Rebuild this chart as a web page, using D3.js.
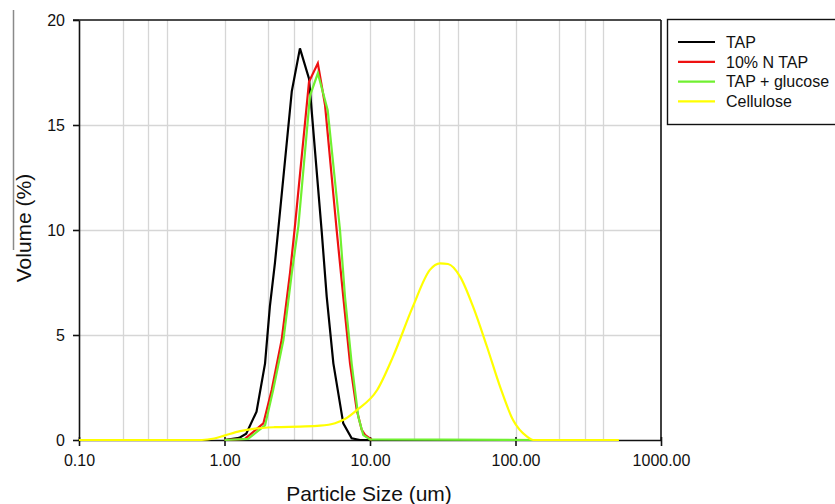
<!DOCTYPE html>
<html>
<head>
<meta charset="utf-8">
<script src="https://cdn.jsdelivr.net/npm/d3@7"></script>
<style>
  html, body { margin: 0; padding: 0; background: #fff; }
  svg { display: block; font-family: Arial, "Liberation Sans", Helvetica, sans-serif; }
</style>
</head>
<body>
<svg id="chart" width="835" height="504"></svg>
<script>
// ---- data ----
const seriesNames = ["TAP", "10% N TAP", "TAP + glucose", "Cellulose"];
const seriesColors = ["#000000", "#ee1111", "#70f030", "#ffff00"];

const tapSize = [1.0, 1.26, 1.41, 1.66, 1.90, 2.05, 2.22, 2.34, 2.90, 3.30, 3.81, 4.66, 5.04, 5.60, 6.55, 7.48, 8.54, 10.0];
const tapVol  = [0, 0.1, 0.3, 1.35, 3.65, 6.35, 8.41, 10.0, 16.6, 18.65, 17.2, 9.9, 6.83, 3.65, 0.79, 0.08, 0, 0];

const nTapSize = [1.0, 1.38, 1.85, 2.11, 2.47, 2.82, 3.05, 3.81, 4.38, 4.91, 5.90, 6.55, 7.29, 8.11, 8.77, 9.24, 10.3];
const nTapVol  = [0, 0.05, 0.79, 2.38, 4.76, 7.94, 10.2, 17.06, 17.94, 15.95, 10.0, 6.83, 3.65, 1.43, 0.48, 0.24, 0];

const glucSize = [1.0, 1.45, 1.90, 2.16, 2.54, 2.90, 3.22, 3.87, 4.38, 5.12, 6.22, 6.73, 7.48, 8.31, 8.99, 10.0, 136];
const glucVol  = [0, 0.05, 0.7, 2.38, 4.76, 7.94, 10.2, 16.4, 17.46, 15.7, 10.0, 6.83, 3.65, 1.1, 0.24, 0.03, 0];

const celSize = [0.1, 0.70, 0.85, 1.01, 1.28, 1.62, 2.22, 3.30, 4.53, 5.75, 6.73, 8.14, 11.2, 14.4, 19.7, 25.8, 30.3, 34.4, 41.6, 51.1, 63.7, 78.3, 96.2, 120, 132, 514];
const celVol  = [0, 0, 0.07, 0.22, 0.42, 0.54, 0.61, 0.64, 0.68, 0.8, 1.0, 1.43, 2.38, 3.97, 6.35, 8.1, 8.41, 8.38, 7.78, 6.35, 4.44, 2.54, 0.95, 0.16, 0, 0];

const xTickValues = [0.1, 1, 10, 100, 1000];
const xTickLabels = ["0.10", "1.00", "10.00", "100.00", "1000.00"];
const xGridMultipliers = [1, 2, 3, 4];
const yTickValues = [0, 5, 10, 15, 20];
const xTitle = "Particle Size (um)";
const yTitle = "Volume (%)";

// ---- layout ----
const svg = d3.select("#chart");
const pLeft = 79, pRight = 661, pTop = 20, pBottom = 440;

const x = d3.scaleLog().domain([0.1, 1000]).range([pLeft, pRight]);
const y = d3.scaleLinear().domain([0, 20]).range([pBottom, pTop]);

// artifact line at far left of the original figure
svg.append("line").attr("x1", 13.5).attr("x2", 13.5).attr("y1", 10).attr("y2", 250)
  .attr("stroke", "#8a8a8a").attr("stroke-width", 1.5);

// grid lines
const gridX = [];
[0.1, 1, 10, 100].forEach(d => xGridMultipliers.forEach(k => gridX.push(d * k)));
svg.append("g").selectAll("line").data(gridX.filter(v => v > 0.1)).join("line")
  .attr("x1", d => Math.round(x(d)) + 0.5).attr("x2", d => Math.round(x(d)) + 0.5)
  .attr("y1", pTop).attr("y2", pBottom)
  .attr("stroke", "#d6d6d6").attr("stroke-width", 1.3);
svg.append("g").selectAll("line").data([5, 10, 15]).join("line")
  .attr("x1", pLeft).attr("x2", pRight)
  .attr("y1", d => Math.round(y(d)) + 0.5).attr("y2", d => Math.round(y(d)) + 0.5)
  .attr("stroke", "#d6d6d6").attr("stroke-width", 1.3);

// frame: top and right border
svg.append("line").attr("x1", pLeft - 6).attr("x2", pRight).attr("y1", pTop).attr("y2", pTop)
  .attr("stroke", "#111").attr("stroke-width", 1.6);
svg.append("line").attr("x1", pRight).attr("x2", pRight).attr("y1", pTop).attr("y2", pBottom)
  .attr("stroke", "#111").attr("stroke-width", 1.6);

// axes
const xAxis = d3.axisBottom(x).tickValues(xTickValues)
  .tickFormat((d, i) => xTickLabels[i]).tickSize(6).tickSizeOuter(0).tickPadding(9);
const gx = svg.append("g").attr("transform", `translate(0,${pBottom})`).call(xAxis);
gx.select(".domain").attr("stroke", "#111").attr("stroke-width", 1.6);
gx.selectAll(".tick line").attr("stroke", "#111").attr("stroke-width", 1.6).attr("y1", -3);
gx.selectAll(".tick text").attr("font-size", 16).attr("fill", "#111")
  .attr("font-family", "Arial, 'Liberation Sans', sans-serif");

const yAxis = d3.axisLeft(y).tickValues(yTickValues).tickFormat(d3.format("d"))
  .tickSize(6).tickSizeOuter(0).tickPadding(8);
const gy = svg.append("g").attr("transform", `translate(${pLeft},0)`).call(yAxis);
gy.select(".domain").attr("stroke", "#111").attr("stroke-width", 1.6);
gy.selectAll(".tick line").attr("stroke", "#111").attr("stroke-width", 1.6);
gy.selectAll(".tick text").attr("font-size", 16).attr("fill", "#111")
  .attr("font-family", "Arial, 'Liberation Sans', sans-serif");

// series
const series = [
  { name: seriesNames[0], color: seriesColors[0], sizes: tapSize, vols: tapVol, curve: d3.curveLinear },
  { name: seriesNames[1], color: seriesColors[1], sizes: nTapSize, vols: nTapVol, curve: d3.curveLinear },
  { name: seriesNames[2], color: seriesColors[2], sizes: glucSize, vols: glucVol, curve: d3.curveLinear },
  { name: seriesNames[3], color: seriesColors[3], sizes: celSize, vols: celVol, curve: d3.curveMonotoneX }
];

series.forEach(s => {
  const pts = s.sizes.map((v, i) => [v, s.vols[i]]);
  const line = d3.line().x(d => x(d[0])).y(d => y(d[1])).curve(s.curve);
  svg.append("path").datum(pts).attr("d", line)
    .attr("fill", "none").attr("stroke", s.color).attr("stroke-width", 2.2)
    .attr("stroke-linejoin", "miter");
});

// axis titles
svg.append("text").attr("x", 369).attr("y", 501).attr("text-anchor", "middle")
  .attr("font-size", 21).attr("fill", "#111").text(xTitle);
svg.append("text").attr("transform", "translate(31,228) rotate(-90)").attr("text-anchor", "middle")
  .attr("font-size", 21).attr("fill", "#111").text(yTitle);

// legend
const lg = svg.append("g");
lg.append("rect").attr("x", 667.5).attr("y", 19.5).attr("width", 180).attr("height", 105)
  .attr("fill", "#fff").attr("stroke", "#111").attr("stroke-width", 1.4);
series.forEach((s, i) => {
  const yy = 42 + i * 19.8;
  lg.append("line").attr("x1", 678).attr("x2", 715).attr("y1", yy).attr("y2", yy)
    .attr("stroke", s.color).attr("stroke-width", 2.2);
  lg.append("text").attr("x", 726).attr("y", yy).attr("dy", "0.36em")
    .attr("font-size", 16).attr("fill", "#111").text(s.name);
});
</script>
</body>
</html>
